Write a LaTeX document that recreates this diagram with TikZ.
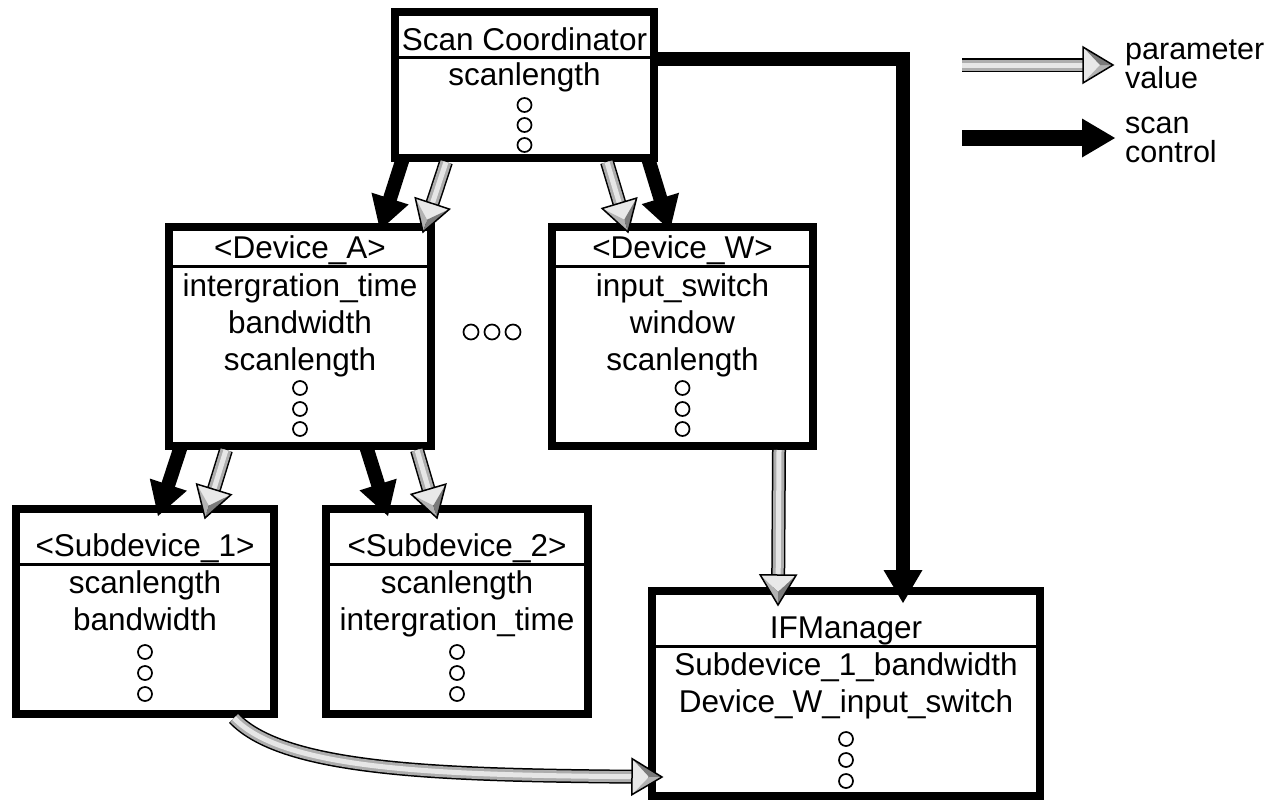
\documentclass[tikz,border=0pt]{standalone}
\usepackage{fontspec}
\setmainfont{Liberation Sans}
\usetikzlibrary{decorations.markings}

\definecolor{tubeA}{HTML}{ADADAD}
\definecolor{tubeB}{HTML}{E6E6E6}
\definecolor{faceL}{HTML}{E8E8E8}
\definecolor{faceM}{HTML}{B2B2B2}
\definecolor{faceD}{HTML}{7A7A7A}

% bevelled grey arrow head, tip at the origin, pointing along +x
\newcommand\greytip{%
  \fill[faceL] (-30,18) -- (-30,-18) -- (-13,0) -- cycle;
  \fill[faceM] (0,0) -- (-30,18) -- (-13,0) -- cycle;
  \fill[faceD] (0,0) -- (-30,-18) -- (-13,0) -- cycle;
  \draw[line width=1.5pt, line join=miter] (0,0) -- (-30,18) -- (-30,-18) -- cycle;}

\tikzset{
  box/.style={draw, line width=8pt, inner sep=0pt, fill=white},
  sepline/.style={line width=3pt},
  txt/.style={anchor=base, inner sep=0pt, font=\fontsize{31.5}{37}\selectfont},
  legtxt/.style={anchor=base west, inner sep=0pt, font=\fontsize{30.5}{29}\selectfont},
  dot/.style={line width=1.7pt},
  ctrl/.style={
    preaction={draw=black, line width=#1, line join=miter, shorten >=26pt},
    postaction={decorate, decoration={markings, mark=at position 1 with
      {\fill[black] (0,0) -- (-33,19.5) -- (-33,-19.5) -- cycle;}}}},
  ctrl/.default=14pt,
  param/.style={
    preaction={draw=black, line width=14pt, shorten >=22pt},
    preaction={draw=tubeA, line width=11pt, shorten >=22pt},
    preaction={draw=tubeB, line width=5pt, shorten >=22pt},
    postaction={decorate, decoration={markings, mark=at position 1 with {\greytip}}}},
}

\begin{document}
\begin{tikzpicture}[x=1pt,y=-1pt]
\useasboundingbox (0,0) rectangle (1281,801);

% ---------- boxes ----------
\node[box, minimum width=259pt, minimum height=146pt] (sc)  at (524.5,85) {};
\node[box, minimum width=262pt, minimum height=219pt] (da)  at (300,336.5) {};
\node[box, minimum width=261pt, minimum height=219pt] (dw)  at (682.5,336.5) {};
\node[box, minimum width=258pt, minimum height=205pt] (s1)  at (145,611.5) {};
\node[box, minimum width=262pt, minimum height=205pt] (s2)  at (457,611.5) {};
\node[box, minimum width=388pt, minimum height=205pt] (ifm) at (846,693.5) {};

% title separators
\draw[sepline] (sc.west |- 0,57)   -- (sc.east |- 0,57);
\draw[sepline] (da.west |- 0,266)  -- (da.east |- 0,266);
\draw[sepline] (dw.west |- 0,266)  -- (dw.east |- 0,266);
\draw[sepline] (s1.west |- 0,564)  -- (s1.east |- 0,564);
\draw[sepline] (s2.west |- 0,564)  -- (s2.east |- 0,564);
\draw[sepline] (ifm.west |- 0,646) -- (ifm.east |- 0,646);

% ---------- texts ----------
\node[txt] (sc-t) at (524.5,50) {Scan Coordinator};
\node[txt] (sc-1) at (524.5,85) {scanlength};

\node[txt] (da-t) at (300,258) {<Device\_A>};
\node[txt] (da-1) at (300,296) {intergration\_time};
\node[txt] (da-2) at (300,333) {bandwidth};
\node[txt] (da-3) at (300,370) {scanlength};

\node[txt] (dw-t) at (682.5,258) {<Device\_W>};
\node[txt] (dw-1) at (682.5,296) {input\_switch};
\node[txt] (dw-2) at (682.5,333) {window};
\node[txt] (dw-3) at (682.5,370) {scanlength};

\node[txt] (s1-t) at (145,556) {<Subdevice\_1>};
\node[txt] (s1-1) at (145,593) {scanlength};
\node[txt] (s1-2) at (145,630) {bandwidth};

\node[txt] (s2-t) at (457,556) {<Subdevice\_2>};
\node[txt] (s2-1) at (457,593) {scanlength};
\node[txt] (s2-2) at (457,630) {intergration\_time};

\node[txt] (ifm-t) at (846,638) {IFManager};
\node[txt] (ifm-1) at (846,675) {Subdevice\_1\_bandwidth};
\node[txt] (ifm-2) at (846,712) {Device\_W\_input\_switch};

% ellipsis circles
\foreach \y in {105,125,145} \draw[dot] (524.5,\y) circle[radius=7];
\foreach \y in {388,409,429} {
  \draw[dot] (300,\y) circle[radius=7];
  \draw[dot] (682.5,\y) circle[radius=7];}
\foreach \y in {652,673,694} {
  \draw[dot] (145,\y) circle[radius=7];
  \draw[dot] (457,\y) circle[radius=7];}
\foreach \y in {739,760,781} \draw[dot] (846,\y) circle[radius=7];
\foreach \x in {471,492,513} \draw[dot] (\x,332) circle[radius=7.5];

% ---------- connector end points ----------
\coordinate (scA)  at (403,158);  \coordinate (daA)  at (380,230);
\coordinate (scB)  at (446,162);  \coordinate (daB)  at (423,232);
\coordinate (scC)  at (607,162);  \coordinate (dwC)  at (628,232);
\coordinate (scD)  at (648,158);  \coordinate (dwD)  at (670,230);
\coordinate (scE)  at (654,59);   \coordinate (ifmE) at (903,603);
\coordinate (daF)  at (181,446);  \coordinate (s1F)  at (158,516);
\coordinate (daG)  at (226,450);  \coordinate (s1G)  at (205,518);
\coordinate (daH)  at (366,446);  \coordinate (s2H)  at (388,516);
\coordinate (daI)  at (417,450);  \coordinate (s2I)  at (437,518);
\coordinate (dwJ)  at (779,450);  \coordinate (ifmJ) at (778,605);
\coordinate (s1K)  at (234,718);  \coordinate (ifmK) at (662,777);

% ---------- connectors ----------
\path[ctrl]  (scA) -- (daA);
\path[param] (scB) -- (daB);
\path[param] (scC) -- (dwC);
\path[ctrl]  (scD) -- (dwD);
\path[ctrl]  (scE) -| (ifmE);
\path[ctrl]  (daF) -- (s1F);
\path[param] (daG) -- (s1G);
\path[ctrl]  (daH) -- (s2H);
\path[param] (daI) -- (s2I);
\path[param] (dwJ) -- (ifmJ);
\path[param] (s1K) .. controls (285,772) and (450,775) .. (ifmK);

% ---------- legend ----------
\coordinate (lg1a) at (962,65);  \coordinate (lg1b) at (1113,65);
\coordinate (lg2a) at (962,138); \coordinate (lg2b) at (1115,138);
\path[param]     (lg1a) -- (lg1b);
\path[ctrl=16pt] (lg2a) -- (lg2b);
\node[legtxt] (lg-p) at (1125,59)  {parameter};
\node[legtxt] (lg-v) at (1125,88)  {value};
\node[legtxt] (lg-s) at (1125,133) {scan};
\node[legtxt] (lg-c) at (1125,162) {control};
\end{tikzpicture}
\end{document}
